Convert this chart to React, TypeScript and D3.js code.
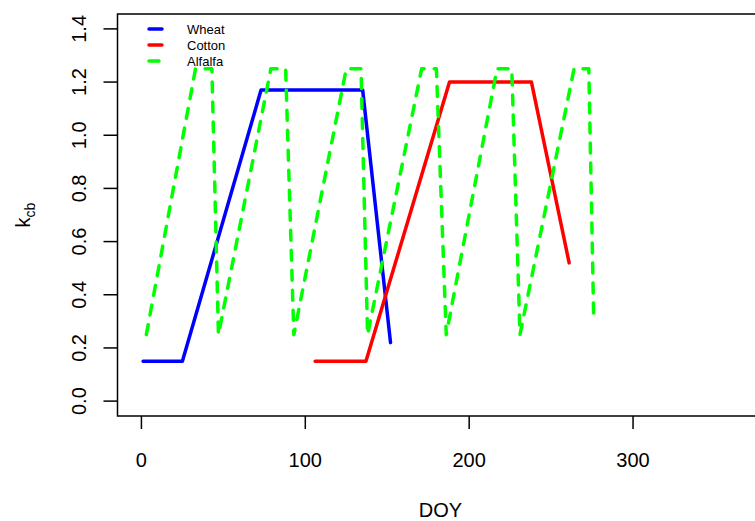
import React from "react";
import * as d3 from "d3";

const wheatDoy = [1, 25, 73, 135, 152];
const wheatKcb = [0.15, 0.15, 1.17, 1.17, 0.22];

const cottonDoy = [106, 137, 188, 238, 261];
const cottonKcb = [0.15, 0.15, 1.2, 1.2, 0.52];

const alfalfaDoy = [3, 33, 43, 47, 79, 88, 93, 125, 134, 138, 171, 180, 186, 217, 226, 231, 264, 273, 276];
const alfalfaKcb = [0.25, 1.25, 1.25, 0.25, 1.25, 1.25, 0.25, 1.25, 1.25, 0.25, 1.25, 1.25, 0.25, 1.25, 1.25, 0.25, 1.25, 1.25, 0.31];

const xTicks = [0, 100, 200, 300];
const yTicks = [0, 0.2, 0.4, 0.6, 0.8, 1.0, 1.2, 1.4];

const seriesNames = ["Wheat", "Cotton", "Alfalfa"];
const seriesColors = ["#0000ff", "#ff0000", "#00ff00"];
const seriesDash = [null, null, "10 10"];

const W = 755;
const H = 521;
const FONT = "'Liberation Sans', Arial, Helvetica, sans-serif";

export default function App() {
  const x = d3.scaleLinear().domain([-14.6, 379.6]).range([117.5, 763.5]);
  const y = d3.scaleLinear().domain([-0.056, 1.456]).range([416, 14]);

  const line = d3
    .line<[number, number]>()
    .x((d) => x(d[0]))
    .y((d) => y(d[1]));

  const series = [
    d3.zip(wheatDoy, wheatKcb) as [number, number][],
    d3.zip(cottonDoy, cottonKcb) as [number, number][],
    d3.zip(alfalfaDoy, alfalfaKcb) as [number, number][],
  ];

  const [x0, x1] = x.range();
  const [yb, yt] = y.range();

  return (
    <svg
      width={W}
      height={H}
      style={{ position: "absolute", left: 0, top: 0, background: "#fff" }}
      fontFamily={FONT}
    >
      <rect x={0} y={0} width={W} height={H} fill="#fff" />
      {/* plot box */}
      <rect x={x0} y={yt} width={x1 - x0} height={yb - yt} fill="none" stroke="#000" strokeWidth={1.5} />

      {/* x axis */}
      {xTicks.map((t) => (
        <g key={"xt" + t}>
          <line x1={x(t)} x2={x(t)} y1={yb} y2={yb + 13} stroke="#000" strokeWidth={1.5} />
          <text x={x(t)} y={467} textAnchor="middle" fontSize={20} fill="#000">
            {t}
          </text>
        </g>
      ))}
      <text x={(x0 + x1) / 2} y={517} textAnchor="middle" fontSize={20} fill="#000">
        DOY
      </text>

      {/* y axis */}
      {yTicks.map((t) => (
        <g key={"yt" + t}>
          <line x1={x0 - 14} x2={x0} y1={y(t)} y2={y(t)} stroke="#000" strokeWidth={1.5} />
          <text
            transform={`translate(${86},${y(t)}) rotate(-90)`}
            textAnchor="middle"
            fontSize={20}
            fill="#000"
          >
            {t.toFixed(1)}
          </text>
        </g>
      ))}
      <text transform={`translate(${30},${(yb + yt) / 2}) rotate(-90)`} textAnchor="middle" fontSize={20} fill="#000">
        k
        <tspan fontSize={14} dy={5}>
          cb
        </tspan>
      </text>

      {/* series */}
      {series.map((s, i) => (
        <path
          key={seriesNames[i]}
          d={line(s) || ""}
          fill="none"
          stroke={seriesColors[i]}
          strokeWidth={3.5}
          strokeDasharray={seriesDash[i] || undefined}
          strokeLinecap="round"
          strokeLinejoin="round"
        />
      ))}

      {/* legend */}
      {seriesNames.map((n, i) => (
        <g key={"lg" + n}>
          <line
            x1={149}
            x2={162}
            y1={29 + i * 16}
            y2={29 + i * 16}
            stroke={seriesColors[i]}
            strokeWidth={3.5}
            strokeLinecap="round"
            strokeDasharray={seriesDash[i] || undefined}
          />
          <text x={187} y={29 + i * 16 + 4.5} fontSize={13} fill="#000">
            {n}
          </text>
        </g>
      ))}
    </svg>
  );
}
